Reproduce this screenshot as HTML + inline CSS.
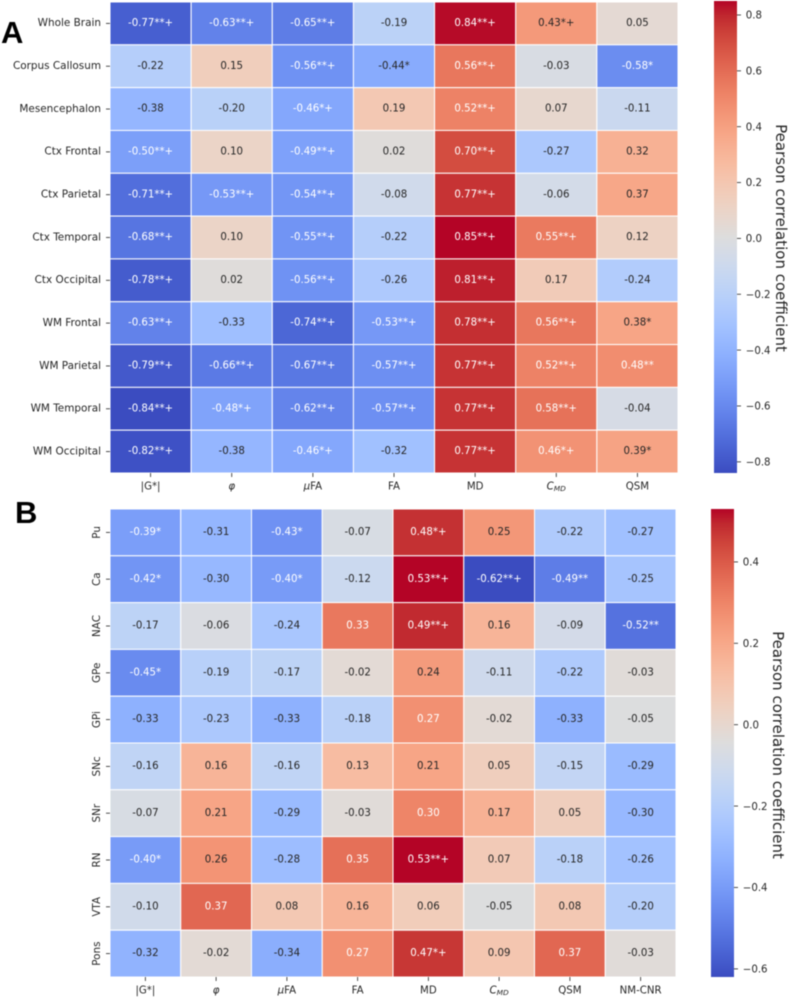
<!DOCTYPE html>
<html lang="en">
<head>
<meta charset="utf-8">
<title>Pearson correlation heatmaps</title>
<style>
  html, body { margin: 0; padding: 0; background: #ffffff; }
  #figure { display: block; width: 789px; height: 998px; filter: blur(0.45px); }
  text { font-family: "DejaVu Sans", "Liberation Sans", sans-serif; fill: #262626; }
  .panel-letter { font-family: "Liberation Sans", sans-serif; font-weight: 700; font-size: 31px; fill: #000000; }
</style>
</head>
<body>
<svg id="figure" xmlns="http://www.w3.org/2000/svg" width="789" height="998" viewBox="0 0 789 998">
  <defs id="defs"></defs>
  <text class="panel-letter" x="1" y="43">A</text>
  <text class="panel-letter" x="15" y="523">B</text>
</svg>
<script>
// ---------- Panel A data ----------
const regionsA = ["Whole Brain", "Corpus Callosum", "Mesencephalon", "Ctx Frontal", "Ctx Parietal", "Ctx Temporal", "Ctx Occipital", "WM Frontal", "WM Parietal", "WM Temporal", "WM Occipital"];
const metricsA = ["|G*|", "φ", "μFA", "FA", "MD", "CMD", "QSM"];
const valuesA = [
  [-0.77, -0.63, -0.65, -0.19, 0.84, 0.43, 0.05],
  [-0.22, 0.15, -0.56, -0.44, 0.56, -0.03, -0.58],
  [-0.38, -0.20, -0.46, 0.19, 0.52, 0.07, -0.11],
  [-0.50, 0.10, -0.49, 0.02, 0.70, -0.27, 0.32],
  [-0.71, -0.53, -0.54, -0.08, 0.77, -0.06, 0.37],
  [-0.68, 0.10, -0.55, -0.22, 0.85, 0.55, 0.12],
  [-0.78, 0.02, -0.56, -0.26, 0.81, 0.17, -0.24],
  [-0.63, -0.33, -0.74, -0.53, 0.78, 0.56, 0.38],
  [-0.79, -0.66, -0.67, -0.57, 0.77, 0.52, 0.48],
  [-0.84, -0.48, -0.62, -0.57, 0.77, 0.58, -0.04],
  [-0.82, -0.38, -0.46, -0.32, 0.77, 0.46, 0.39]
];
const marksA = [
  ["**+", "**+", "**+", "", "**+", "*+", ""],
  ["", "", "**+", "*", "**+", "", "*"],
  ["", "", "*+", "", "**+", "", ""],
  ["**+", "", "**+", "", "**+", "", ""],
  ["**+", "**+", "**+", "", "**+", "", ""],
  ["**+", "", "**+", "", "**+", "**+", ""],
  ["**+", "", "**+", "", "**+", "", ""],
  ["**+", "", "**+", "**+", "**+", "**+", "*"],
  ["**+", "**+", "**+", "**+", "**+", "**+", "**"],
  ["**+", "*+", "**+", "**+", "**+", "**+", ""],
  ["**+", "", "*+", "", "**+", "*+", "*"]
];
const colorbarTicksA = [0.8, 0.6, 0.4, 0.2, 0.0, -0.2, -0.4, -0.6, -0.8];

// ---------- Panel B data ----------
const regionsB = ["Pu", "Ca", "NAC", "GPe", "GPi", "SNc", "SNr", "RN", "VTA", "Pons"];
const metricsB = ["|G*|", "φ", "μFA", "FA", "MD", "CMD", "QSM", "NM-CNR"];
const valuesB = [
  [-0.39, -0.31, -0.43, -0.07, 0.48, 0.25, -0.22, -0.27],
  [-0.42, -0.30, -0.40, -0.12, 0.53, -0.62, -0.49, -0.25],
  [-0.17, -0.06, -0.24, 0.33, 0.49, 0.16, -0.09, -0.52],
  [-0.45, -0.19, -0.17, -0.02, 0.24, -0.11, -0.22, -0.03],
  [-0.33, -0.23, -0.33, -0.18, 0.27, -0.02, -0.33, -0.05],
  [-0.16, 0.16, -0.16, 0.13, 0.21, 0.05, -0.15, -0.29],
  [-0.07, 0.21, -0.29, -0.03, 0.30, 0.17, 0.05, -0.30],
  [-0.40, 0.26, -0.28, 0.35, 0.53, 0.07, -0.18, -0.26],
  [-0.10, 0.37, 0.08, 0.16, 0.06, -0.05, 0.08, -0.20],
  [-0.32, -0.02, -0.34, 0.27, 0.47, 0.09, 0.37, -0.03]
];
const marksB = [
  ["*", "", "*", "", "*+", "", "", ""],
  ["*", "", "*", "", "**+", "**+", "**", ""],
  ["", "", "", "", "**+", "", "", "**"],
  ["*", "", "", "", "", "", "", ""],
  ["", "", "", "", "", "", "", ""],
  ["", "", "", "", "", "", "", ""],
  ["", "", "", "", "", "", "", ""],
  ["*", "", "", "", "**+", "", "", ""],
  ["", "", "", "", "", "", "", ""],
  ["", "", "", "", "*+", "", "", ""]
];
const colorbarTicksB = [0.4, 0.2, 0.0, -0.2, -0.4, -0.6];

const colorbarTitle = "Pearson correlation coefficient";

// Matplotlib "coolwarm" colormap lookup
const coolwarm = [[59,76,192],[68,90,204],[77,104,215],[87,117,225],[98,130,234],[108,142,241],[119,154,247],[130,165,251],[141,176,254],[152,185,255],[163,194,255],[174,201,253],[184,208,249],[194,213,244],[204,217,238],[213,219,230],[221,221,221],[229,216,209],[236,211,197],[241,204,185],[245,196,173],[247,187,160],[247,177,148],[247,166,135],[244,154,123],[241,141,111],[236,127,99],[229,112,88],[222,96,77],[213,80,66],[203,62,56],[192,40,47],[180,4,38]];

const SVG_NS = "http://www.w3.org/2000/svg";
const figure = document.getElementById("figure");

function make(tag, parent) {
  const el = document.createElementNS(SVG_NS, tag);
  parent.appendChild(el);
  return el;
}
function slug(s) {
  return String(s).toLowerCase().replace(/[^a-z0-9]+/g, "-").replace(/^-|-$/g, "") || "item";
}
function metricSlug(s) {
  if (s === "φ") return "phi";
  if (s === "μFA") return "mu-fa";
  if (s === "|G*|") return "g-star";
  return slug(s);
}
function sampleColormap(t) {
  const c = Math.max(0, Math.min(1, t)) * (coolwarm.length - 1);
  const i = Math.min(coolwarm.length - 2, Math.floor(c));
  const f = c - i;
  return [0, 1, 2].map(k => coolwarm[i][k] + (coolwarm[i + 1][k] - coolwarm[i][k]) * f);
}
function rgbString(c) {
  return "rgb(" + c.map(Math.round).join(",") + ")";
}
function luminance(c) {
  const l = c.map(v => {
    const s = v / 255;
    return s <= 0.03928 ? s / 12.92 : Math.pow((s + 0.055) / 1.055, 2.4);
  });
  return 0.2126 * l[0] + 0.7152 * l[1] + 0.0722 * l[2];
}
function writeMetricLabel(node, label) {
  if (label === "CMD") {
    const c = make("tspan", node);
    c.setAttribute("font-style", "italic");
    c.textContent = "C";
    const sub = make("tspan", node);
    sub.setAttribute("font-style", "italic");
    sub.setAttribute("font-size", "7.4");
    sub.setAttribute("dy", "1.6");
    sub.textContent = "MD";
  } else if (label === "μFA") {
    const mu = make("tspan", node);
    mu.setAttribute("font-style", "italic");
    mu.textContent = "μ";
    const fa = make("tspan", node);
    fa.textContent = "FA";
  } else if (label === "φ") {
    node.setAttribute("font-style", "italic");
    node.textContent = label;
  } else {
    node.textContent = label;
  }
}

function drawPanel(id, regions, metrics, values, marks, cbTicks, box, rotateRegions) {
  const group = make("g", figure);
  
  

  const flat = values.flat();
  const vmin = Math.min.apply(null, flat);
  const vmax = Math.max.apply(null, flat);
  const cellW = box.w / metrics.length;
  const cellH = box.h / regions.length;
  const xBand = i => box.x + i * cellW;
  const yBand = j => box.y + j * cellH;
  const colorOf = v => sampleColormap((v - vmin) / (vmax - vmin));
  const cbY = v => box.cbTop + (vmax - v) / (vmax - vmin) * box.cbH;

  // Heatmap cells and annotations
  regions.forEach((region, j) => {
    metrics.forEach((metric, i) => {
      const v = values[j][i];
      const c = colorOf(v);
      const rect = make("rect", group);
      
      
      rect.setAttribute("x", xBand(i));
      rect.setAttribute("y", yBand(j));
      rect.setAttribute("width", cellW);
      rect.setAttribute("height", cellH);
      rect.setAttribute("fill", rgbString(c));
      rect.setAttribute("stroke", "#ffffff");
      rect.setAttribute("stroke-width", "1");

      const t = make("text", group);
      
      
      t.setAttribute("x", xBand(i) + cellW / 2);
      t.setAttribute("y", yBand(j) + cellH / 2 + 2.6);
      t.setAttribute("text-anchor", "middle");
      t.setAttribute("font-size", "10.2");
      t.style.fill = luminance(c) > 0.408 ? "#262626" : "#ffffff";
      t.textContent = v.toFixed(2) + marks[j][i];
    });
  });

  // Y axis: ticks and region labels
  regions.forEach((region, j) => {
    const cy = yBand(j) + cellH / 2;
    const tick = make("line", group);
    
    
    tick.setAttribute("x1", box.x - 4);
    tick.setAttribute("x2", box.x);
    tick.setAttribute("y1", cy);
    tick.setAttribute("y2", cy);
    tick.setAttribute("stroke", "#262626");
    tick.setAttribute("stroke-width", "0.8");

    const label = make("text", group);
    
    
    label.textContent = region;
    if (rotateRegions) {
      label.setAttribute("font-size", "10.4");
      label.setAttribute("text-anchor", "middle");
      label.setAttribute("transform", "translate(" + (box.x - 10) + " " + cy + ") rotate(-90)");
    } else {
      label.setAttribute("font-size", "10.45");
      label.setAttribute("text-anchor", "end");
      label.setAttribute("x", box.x - 9);
      label.setAttribute("y", cy + 2.8);
    }
  });

  // X axis: ticks and metric labels
  metrics.forEach((metric, i) => {
    const cx = xBand(i) + cellW / 2;
    const tick = make("line", group);
    
    
    tick.setAttribute("x1", cx);
    tick.setAttribute("x2", cx);
    tick.setAttribute("y1", box.y + box.h);
    tick.setAttribute("y2", box.y + box.h + 4);
    tick.setAttribute("stroke", "#262626");
    tick.setAttribute("stroke-width", "0.8");

    const label = make("text", group);
    
    
    label.setAttribute("x", cx);
    label.setAttribute("y", box.y + box.h + 16.5);
    label.setAttribute("text-anchor", "middle");
    label.setAttribute("font-size", "10.2");
    writeMetricLabel(label, metric);
  });

  // Colorbar
  const defs = document.getElementById("defs");
  const grad = make("linearGradient", defs);
  grad.setAttribute("id", "coolwarm-" + id);
  grad.setAttribute("x1", "0");
  grad.setAttribute("y1", "1");
  grad.setAttribute("x2", "0");
  grad.setAttribute("y2", "0");
  coolwarm.forEach((c, k) => {
    const stop = make("stop", grad);
    stop.setAttribute("offset", k / (coolwarm.length - 1));
    stop.setAttribute("stop-color", rgbString(c));
  });

  const bar = make("rect", group);
  
  
  bar.setAttribute("x", box.cbX);
  bar.setAttribute("y", box.cbTop);
  bar.setAttribute("width", box.cbW);
  bar.setAttribute("height", box.cbH);
  bar.setAttribute("fill", "url(#coolwarm-" + id + ")");

  cbTicks.forEach(v => {
    const y = cbY(v);
    const tick = make("line", group);
    
    
    tick.setAttribute("x1", box.cbX + box.cbW);
    tick.setAttribute("x2", box.cbX + box.cbW + 4);
    tick.setAttribute("y1", y);
    tick.setAttribute("y2", y);
    tick.setAttribute("stroke", "#262626");
    tick.setAttribute("stroke-width", "0.8");

    const label = make("text", group);
    
    
    label.setAttribute("x", box.cbX + box.cbW + 8.8);
    label.setAttribute("y", y + 3.7);
    label.setAttribute("font-size", "10.2");
    label.textContent = (v < 0 ? "\u2212" : "") + Math.abs(v).toFixed(1);
  });

  const title = make("text", group);
  
  
  title.setAttribute("font-size", "15");
  title.setAttribute("text-anchor", "middle");
  title.setAttribute("transform", "translate(" + box.cbTitleX + " " + box.cbTitleY + ") rotate(90)");
  title.textContent = colorbarTitle;
}

drawPanel("a", regionsA, metricsA, valuesA, marksA, colorbarTicksA,
  { x: 110, y: 2, w: 568, h: 471, cbX: 714, cbW: 23, cbTop: 1, cbH: 472, cbTitleX: 776, cbTitleY: 238 }, false);
drawPanel("b", regionsB, metricsB, valuesB, marksB, colorbarTicksB,
  { x: 110, y: 509, w: 566, h: 468, cbX: 711, cbW: 23, cbTop: 509, cbH: 468, cbTitleX: 773, cbTitleY: 745 }, true);
</script>
</body>
</html>
